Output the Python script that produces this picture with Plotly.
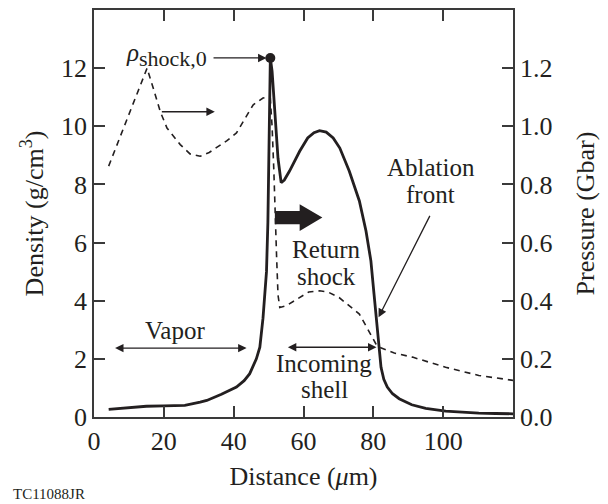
import plotly.graph_objects as go

# Density profile (solid, left axis, g/cm^3)
dist_density = [4.2, 10, 15, 20, 26, 30.4, 32.3, 36.5, 40.8, 43, 44.6, 46.5, 47.5, 48.4, 49.0,
                49.4, 49.8, 50.2, 50.5, 51.0, 51.7, 52.7, 53.6, 54.5, 56, 58.9, 61.2, 63, 64.6,
                66.5, 68.5, 70.4, 73.1, 76, 77.9, 79.3, 80.2, 80.9, 81.5, 82.2, 83, 84, 85.5,
                87.4, 91, 95, 100.7, 105, 110.2, 115, 120]
density = [0.26, 0.33, 0.37, 0.38, 0.40, 0.51, 0.57, 0.78, 1.03, 1.25, 1.49, 2.0, 2.4, 3.4, 4.2,
           5.0, 6.7, 10.0, 12.35, 11.9, 10.6, 8.9, 8.06, 8.15, 8.46, 9.14, 9.6, 9.78, 9.85,
           9.8, 9.6, 9.25, 8.46, 7.43, 6.4, 5.37, 4.23, 3.31, 2.40, 1.71, 1.3, 1.03, 0.8,
           0.63, 0.42, 0.3, 0.2, 0.16, 0.13, 0.12, 0.11]

# Pressure profile (dashed, right axis, Gbar)
dist_pressure = [4.2, 9.5, 15.2, 17, 19, 20.9, 24.7, 27.5, 30.4, 33, 35.1, 38, 40.8, 43, 45.6,
                 48.4, 49.4, 50.5, 51.0, 51.5, 52.0, 52.3, 52.7, 53.2, 55.1, 58.9, 61.5, 64.6,
                 67, 70.2, 73, 76, 78.5, 80.7, 81.7, 86, 91.2, 100.7, 110.2, 120]
pressure = [0.863, 1.025, 1.20, 1.13, 1.05, 0.994, 0.937, 0.905, 0.897, 0.91, 0.926, 0.95, 0.977,
            1.02, 1.074, 1.097, 1.10, 1.095, 1.0, 0.85, 0.7, 0.55, 0.42, 0.377, 0.383, 0.411,
            0.43, 0.434, 0.43, 0.411, 0.385, 0.354, 0.30, 0.252, 0.24, 0.22, 0.206, 0.171,
            0.143, 0.126]

x_ticks = [0, 20, 40, 60, 80, 100]
density_ticks = [0, 2, 4, 6, 8, 10, 12]
pressure_ticks = [0.0, 0.2, 0.4, 0.6, 0.8, 1.0, 1.2]

FONT = "Liberation Serif"
INK = "#231f20"
AX = "#3a3a3a"

peak_i = density.index(max(density))

fig = go.Figure()
fig.add_trace(go.Scatter(x=dist_density, y=density, mode="lines",
                         line=dict(color=INK, width=2.8), yaxis="y", showlegend=False))
fig.add_trace(go.Scatter(x=dist_pressure, y=pressure, mode="lines",
                         line=dict(color=INK, width=1.6, dash="6px,5px"), yaxis="y2",
                         showlegend=False))
fig.add_trace(go.Scatter(x=[dist_density[peak_i]], y=[density[peak_i]], mode="markers",
                         marker=dict(color=INK, size=10), yaxis="y", showlegend=False))

tick_font = dict(family=FONT, size=26, color=INK)
title_font = dict(family=FONT, size=26, color=INK)
axis_common = dict(showline=True, linewidth=1.5, linecolor=AX, ticks="inside", ticklen=11,
                   tickwidth=1.5, tickcolor=AX, showgrid=False, zeroline=False,
                   tickfont=tick_font)

fig.update_layout(
    width=608, height=504,
    margin=dict(l=94, r=95, t=8, b=87),
    paper_bgcolor="white", plot_bgcolor="white",
    xaxis=dict(range=[0, 120], tickvals=x_ticks, mirror="ticks",
               title=dict(text="Distance (<i>μ</i>m)", font=title_font, standoff=12),
               **axis_common),
    yaxis=dict(range=[0, 14], tickvals=density_ticks,
               title=dict(text="Density (g/cm<sup>3</sup>)", font=title_font, standoff=10),
               **axis_common),
    yaxis2=dict(range=[0, 1.4], tickvals=pressure_ticks, tickformat=".1f", overlaying="y",
                side="right",
                title=dict(text="Pressure (Gbar)", font=title_font, standoff=24),
                **axis_common),
)

text_font = dict(family=FONT, size=25, color=INK)


def label(x, y, text, **kw):
    fig.add_annotation(x=x, y=y, xref="x", yref="y", text=text, showarrow=False,
                       font=text_font, **kw)


def arrow(x0, y0, x1, y1, both=False):
    fig.add_annotation(x=x1, y=y1, ax=x0, ay=y0, xref="x", yref="y", axref="x", ayref="y",
                       text="", showarrow=True, arrowhead=2, arrowsize=1.3, arrowwidth=1.3,
                       arrowcolor=INK, standoff=0, startstandoff=0,
                       arrowside="end+start" if both else "end", startarrowhead=2,
                       startarrowsize=1.3)


# Peak density label
label(20.8, 12.45, '<i>ρ</i><sub><span style="font-size:22px">shock,0</span></sub>')
arrow(33.8, 12.35, 49.4, 12.35)

# Arrow indicating pressure curve uses right axis
arrow(19.0, 10.5, 34.6, 10.5)

# Vapor region
label(23.3, 2.97, "Vapor")
arrow(5.6, 2.37, 43.7, 2.37, both=True)

# Incoming shell region
arrow(55.1, 2.4, 80.9, 2.4, both=True)
label(66.0, 1.85, "Incoming")
label(66.0, 0.93, "shell")

# Return shock
label(66.5, 5.77, "Return")
label(66.5, 4.85, "shock")

# Ablation front
label(96.4, 8.57, "Ablation")
label(96.4, 7.66, "front")
arrow(96.4, 6.97, 81.5, 3.43)

# Thick arrow showing direction of the return shock
sx0, sx1, sx2 = 51.8, 58.9, 65.4
sy, sh, hh = 6.86, 0.23, 0.46
fig.add_shape(type="path", xref="x", yref="y",
              path=(f"M{sx0},{sy - sh} L{sx1},{sy - sh} L{sx1},{sy - hh} L{sx2},{sy} "
                    f"L{sx1},{sy + hh} L{sx1},{sy + sh} L{sx0},{sy + sh} Z"),
              fillcolor=INK, line=dict(width=0))

fig.add_annotation(x=-0.196, y=-0.19, xref="paper", yref="paper", text="TC11088JR",
                   showarrow=False, xanchor="left", yanchor="middle", borderpad=0,
                   font=dict(family=FONT, size=15, color=INK))

fig.write_html("out.html")
